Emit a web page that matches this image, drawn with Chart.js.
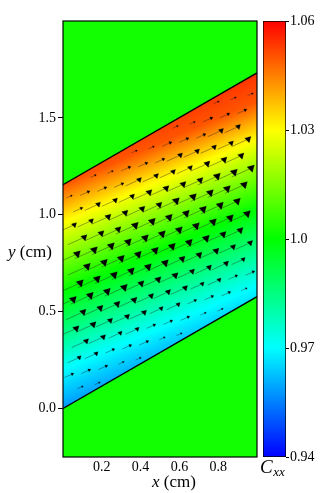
<!DOCTYPE html>
<html><head><meta charset="utf-8">
<script src="https://cdn.jsdelivr.net/npm/chart.js@4/dist/chart.umd.min.js"></script>
<style>
html,body{margin:0;padding:0;background:#fff;}
#wrap{position:relative;width:322px;height:493px;}
canvas{position:absolute;left:0;top:0;}
</style></head><body>
<div id="wrap"><canvas id="field" width="322" height="493"></canvas><canvas id="cbar" width="322" height="493"></canvas></div>
<script>
// ---------------- data ----------------
const xRange = [0, 1];
const yRange = [-0.25, 2.0];
const xTicks = [0.2, 0.4, 0.6, 0.8];
const yTicks = [0.0, 0.5, 1.0, 1.5];
const cbarTicks = [0.94, 0.97, 1.0, 1.03, 1.06];
const cbarTickLabels = ['0.94', '0.97', '1.0', '1.03', '1.06'];
// colour map (value -> colour)
const cmapValues = [0.94, 0.97, 1.0, 1.03, 1.06];
const cmapColors = [[0,0,255],[0,255,255],[0,255,0],[255,255,0],[255,0,0]];
// channel walls
const wallX = [0, 1];
const wallBottomY = [0, 0.5774];
const wallTopY = [1.1547, 1.7321];
// C_xx outside the channel
const outsideValue = 1.002;
// C_xx inside: contour lines of slope contourSlope, level value and its y-intercept at x = 0
const contourSlope = 0.43;
const fieldLevels = [0.958, 0.97, 1.0, 1.03, 1.05, 1.054];
const fieldIntercepts = [0.0, 0.2, 0.6, 0.96, 1.155, 1.30];
// arrow lattice: first arrowhead of each row, and spacing along a row
const arrowRowX0 = [0.0117, 0.0478, 0.0839, 0.0324, 0.0685, 0.0170, 0.0531, 0.0892, 0.0377, 0.0738, 0.0223, 0.0584, 0.0945, 0.0430, 0.0791, 0.0276, 0.0637, 0.0998, 0.0483];
const arrowRowY0 = [0.0928, 0.1781, 0.2634, 0.3280, 0.4133, 0.4779, 0.5632, 0.6485, 0.7131, 0.7984, 0.8630, 0.9483, 1.0336, 1.0982, 1.1835, 1.2481, 1.3334, 1.4187, 1.4833];
const arrowStep = [0.0876, 0.0207];
const flowSlope = 0.45;
// relative speed across the channel (by distance s above the lower wall)
const speedBandS = [0.08, 0.17, 0.24, 0.33, 0.44, 0.76, 0.86, 0.97, 1.06, 1.20];
const speedBandU = [0.25, 0.40, 0.60, 0.75, 0.88, 1.00, 0.85, 0.70, 0.42, 0.25];

// ---------------- styles ----------------
const SERIF = '"Liberation Serif", "DejaVu Serif", serif';
const TICK_FONT = {family: SERIF, size: 14};
const HEAD_MAX_R = 4.3;
const SHAFT_MAX = 0.11;

// ---------------- helpers ----------------
function cmap(v){
  if (v <= cmapValues[0]) return cmapColors[0];
  for (let i = 1; i < cmapValues.length; i++){
    if (v <= cmapValues[i]){
      const f = (v - cmapValues[i-1]) / (cmapValues[i] - cmapValues[i-1]);
      const a = cmapColors[i-1], b = cmapColors[i];
      return a.map((c,k) => Math.round(c + (b[k]-c)*f));
    }
  }
  return cmapColors[cmapColors.length-1];
}
const rgb = c => `rgb(${c[0]},${c[1]},${c[2]})`;

const wallSlope = (wallBottomY[1]-wallBottomY[0])/(wallX[1]-wallX[0]);
const channelH = wallTopY[0]-wallBottomY[0];

// arrows table
const heads = [], headR = [], headRot = [], shafts = [];
const theta = Math.atan(flowSlope);
for (let j = 0; j < arrowRowX0.length; j++){
  for (let k = 0; k < 20; k++){
    const x = arrowRowX0[j] + k*arrowStep[0];
    const y = arrowRowY0[j] + k*arrowStep[1];
    if (x > 0.985) break;
    if (x < 0.04) continue;
    const s = y - wallSlope*x;
    if (s < 0.025 || s > channelH - 0.025) continue;
    let b = speedBandS.findIndex(v => s < v);
    if (b < 0) b = speedBandU.length-1;
    const u = speedBandU[b];
    heads.push({x, y});
    headR.push(HEAD_MAX_R*u);
    headRot.push(u >= 0.55 ? 165 : 90 - theta*180/Math.PI);
    const L = SHAFT_MAX*u;
    shafts.push({x: x - L*Math.cos(theta), y: y - L*Math.sin(theta)});
    shafts.push({x, y});
    shafts.push({x: null, y: null});
  }
}

function fieldGradient(context){
  const chart = context.chart;
  const xs = chart.scales.x, ys = chart.scales.y;
  if (!chart.chartArea || !xs || !ys) return 'rgba(0,0,0,0)';
  const p = (x,y) => [xs.getPixelForValue(x), ys.getPixelForValue(y)];
  const o = p(0, fieldIntercepts[0]);
  const e = p(1, fieldIntercepts[0] + contourSlope);
  const dx = e[0]-o[0], dy = e[1]-o[1], len = Math.hypot(dx, dy);
  if (!isFinite(len) || len === 0) return 'rgba(0,0,0,0)';
  const nx = dy/len, ny = -dx/len;
  const proj = t => { const q = p(0,t); return (q[0]-o[0])*nx + (q[1]-o[1])*ny; };
  const last = proj(fieldIntercepts[fieldIntercepts.length-1]);
  const g = chart.ctx.createLinearGradient(o[0], o[1], o[0]+nx*last, o[1]+ny*last);
  fieldIntercepts.forEach((t,i) => g.addColorStop(Math.min(1, Math.max(0, proj(t)/last)), rgb(cmap(fieldLevels[i]))));
  return g;
}

function drawMixed(ctx, parts, cx, baseline){
  let w = 0;
  parts.forEach(([t,f]) => { ctx.font = f; w += ctx.measureText(t).width; });
  let x = cx - w/2;
  parts.forEach(([t,f]) => { ctx.font = f; ctx.fillText(t, x, baseline); x += ctx.measureText(t).width; });
}

const decor = {
  id: 'decor',
  beforeDraw(chart){
    const {ctx, chartArea: a} = chart;
    ctx.save();
    ctx.fillStyle = rgb(cmap(outsideValue));
    ctx.fillRect(a.left, a.top, a.right-a.left, a.bottom-a.top);
    ctx.restore();
  },
  afterDatasetsDraw(chart){
    const {ctx, chartArea: a} = chart;
    ctx.save();
    ctx.strokeStyle = '#000'; ctx.lineWidth = 1.2;
    ctx.strokeRect(a.left, a.top, a.right-a.left, a.bottom-a.top);
    ctx.restore();
  },
  afterDraw(chart){
    const ctx = chart.ctx;
    ctx.save();
    ctx.fillStyle = '#000';
    ctx.textBaseline = 'alphabetic';
    drawMixed(ctx, [['x', `italic 17px ${SERIF}`], [' (cm)', `17px ${SERIF}`]], 174, 486.5);
    drawMixed(ctx, [['y', `italic 17px ${SERIF}`], [' (cm)', `17px ${SERIF}`]], 30, 257);
    ctx.font = `italic 19px ${SERIF}`;
    ctx.fillText('C', 260, 473);
    const w = ctx.measureText('C').width;
    ctx.font = `italic 13px ${SERIF}`;
    ctx.fillText('xx', 260 + w + 0.5, 476);
    ctx.restore();
  }
};

new Chart(document.getElementById('field'), {
  type: 'line',
  data: {
    datasets: [
      {data: heads, showLine: false, pointStyle: 'triangle', pointRadius: headR, pointRotation: headRot,
       pointBackgroundColor: '#000', pointBorderColor: '#000', pointBorderWidth: 0.3, fill: false},
      {data: shafts, borderColor: 'rgba(35,35,35,0.7)', borderWidth: 0.6, pointRadius: 0, spanGaps: false, fill: false},
      {data: wallX.map((x,i) => ({x, y: wallTopY[i]})), borderColor: '#000', borderWidth: 1.3, pointRadius: 0,
       fill: '+1', backgroundColor: fieldGradient},
      {data: wallX.map((x,i) => ({x, y: wallBottomY[i]})), borderColor: '#000', borderWidth: 1.3, pointRadius: 0, fill: false}
    ]
  },
  options: {
    responsive: false, animation: false, events: [],
    layout: {padding: {left: 0, right: 65, top: 21, bottom: 0}},
    plugins: {legend: {display: false}, tooltip: {enabled: false}, filler: {drawTime: 'beforeDatasetsDraw'}},
    scales: {
      x: {type: 'linear', min: xRange[0], max: xRange[1],
          afterFit(s){ s.height = 36; },
          afterBuildTicks(s){ s.ticks = xTicks.map(v => ({value: v})); },
          ticks: {callback: v => Number(v).toFixed(1), font: TICK_FONT, color: '#000', padding: 2, maxRotation: 0, autoSkip: false},
          grid: {display: false, drawTicks: false}, border: {display: false}},
      y: {type: 'linear', min: yRange[0], max: yRange[1],
          afterFit(s){ s.width = 63; },
          afterBuildTicks(s){ s.ticks = yTicks.map(v => ({value: v})); },
          ticks: {callback: v => Number(v).toFixed(1), font: TICK_FONT, color: '#000', padding: 2, autoSkip: false},
          grid: {drawOnChartArea: false, drawTicks: true, tickLength: 5, color: '#000', lineWidth: 1}, border: {display: false}}
    }
  },
  plugins: [decor]
});

function cbarGradient(context){
  const chart = context.chart;
  const ys = chart.scales.y;
  if (!chart.chartArea || !ys) return 'rgba(0,0,0,0)';
  const y0 = ys.getPixelForValue(cmapValues[0]), y1 = ys.getPixelForValue(cmapValues[cmapValues.length-1]);
  const g = chart.ctx.createLinearGradient(0, y0, 0, y1);
  const span = cmapValues[cmapValues.length-1] - cmapValues[0];
  cmapValues.forEach((v,i) => g.addColorStop((v-cmapValues[0])/span, rgb(cmapColors[i])));
  return g;
}

new Chart(document.getElementById('cbar'), {
  type: 'bar',
  data: {labels: ['Cxx'], datasets: [{data: [[cbarTicks[0], cbarTicks[cbarTicks.length-1]]], backgroundColor: cbarGradient,
    borderColor: '#000', borderWidth: 1, borderSkipped: false, barPercentage: 1, categoryPercentage: 1}]},
  options: {
    responsive: false, animation: false, events: [],
    layout: {padding: {left: 263, right: 0, top: 21, bottom: 36}},
    plugins: {legend: {display: false}, tooltip: {enabled: false}},
    scales: {
      x: {display: false},
      y: {position: 'right', min: cbarTicks[0], max: cbarTicks[cbarTicks.length-1],
          afterFit(s){ s.width = 36; },
          afterBuildTicks(s){ s.ticks = cbarTicks.map(v => ({value: v})); },
          ticks: {callback: (v,i) => cbarTickLabels[i], font: TICK_FONT, color: '#000', padding: 1, autoSkip: false},
          grid: {drawOnChartArea: false, drawTicks: true, tickLength: 3, color: '#000'}, border: {display: false}}
    }
  }
});
</script>
</body></html>
